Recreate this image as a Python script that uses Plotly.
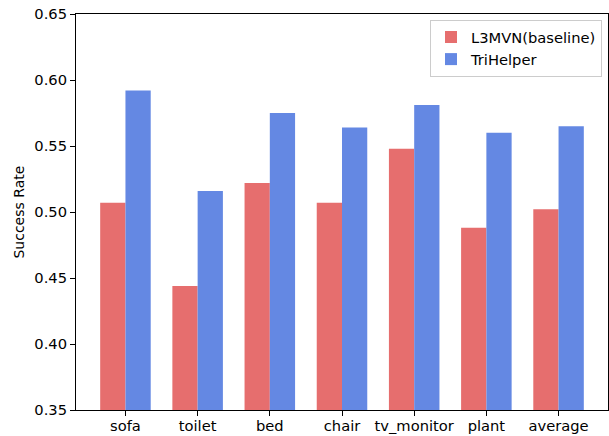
import plotly.graph_objects as go

categories = ["sofa", "toilet", "bed", "chair", "tv_monitor", "plant", "average"]
baseline = [0.507, 0.444, 0.522, 0.507, 0.548, 0.488, 0.502]
trihelper = [0.592, 0.516, 0.575, 0.564, 0.581, 0.560, 0.565]
yticks = [0.35, 0.40, 0.45, 0.50, 0.55, 0.60, 0.65]

x = list(range(len(categories)))
w = 0.35

fig = go.Figure()
fig.add_trace(go.Bar(x=[i - w / 2 for i in x], y=baseline, width=w,
                     name="L3MVN(baseline)", marker=dict(color="#E66E6E", line=dict(width=0))))
fig.add_trace(go.Bar(x=[i + w / 2 for i in x], y=trihelper, width=w,
                     name="TriHelper", marker=dict(color="#6488E3", line=dict(width=0))))

font = dict(family="DejaVu Sans", size=14.7, color="black")
fig.update_layout(
    width=609, height=436,
    margin=dict(l=76, r=1, t=14, b=26, autoexpand=False),
    paper_bgcolor="white", plot_bgcolor="white",
    font=font,
    barmode="overlay",
    hovermode=False,
    showlegend=True,
    legend=dict(x=0.9887, y=0.985, xanchor="right", yanchor="top",
                bordercolor="#cccccc", borderwidth=1, bgcolor="white",
                font=dict(family="DejaVu Sans", size=14.7, color="black"),
                tracegroupgap=2),
    xaxis=dict(range=[-0.685, 6.685], tickmode="array", tickvals=x, ticktext=categories,
               automargin=False, ticklabelstandoff=-3,
               showgrid=False, zeroline=False, showline=True, linecolor="black", linewidth=1,
               mirror=True, ticks="outside", ticklen=5, tickcolor="black", tickfont=font),
    yaxis=dict(range=[0.35, 0.65], tickmode="array", tickvals=yticks,
               ticktext=[f"{v:.2f}" for v in yticks], automargin=False,
               showgrid=False, zeroline=False, showline=True, linecolor="black", linewidth=1,
               mirror=True, ticks="outside", ticklen=5, tickcolor="black", tickfont=font),
    annotations=[dict(text="Success Rate", xref="paper", yref="paper", x=-0.108, y=0.5,
                      xanchor="center", yanchor="middle", textangle=-90, showarrow=False,
                      font=dict(family="DejaVu Sans", size=14, color="black"))],
)

fig.write_html("out.html", config={"displayModeBar": False},
               post_script="document.body.style.margin='0';document.body.style.padding='0';")
